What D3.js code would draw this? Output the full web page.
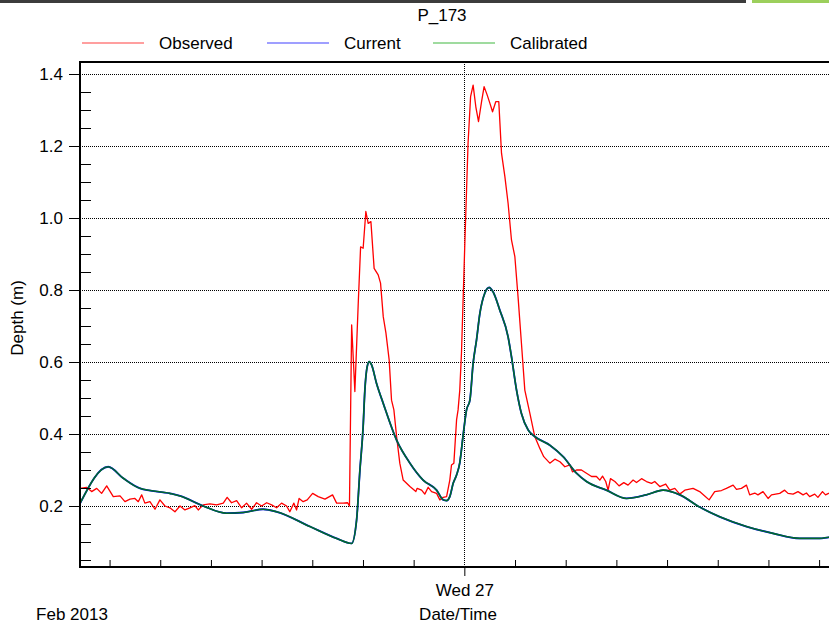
<!DOCTYPE html>
<html>
<head>
<meta charset="utf-8">
<script src="https://cdn.jsdelivr.net/npm/d3@7"></script>
<style>
    body { margin: 0; background: #fff; }
    svg { display: block; font-family: "Liberation Sans", Arial, sans-serif; }
    .axis path, .axis line { stroke: #000; }
</style>
</head>
<body>
<script>
'use strict';

// hours after Tue 26 Feb 2013 00:00
var observedHours = [1.25, 1.64, 1.94, 2.24, 2.53, 2.83, 3.22, 3.62, 3.91, 4.21, 4.50, 4.70, 4.90, 5.09, 5.39, 5.69, 5.98, 6.28, 6.57, 6.87,
    7.17, 7.46, 7.76, 8.05, 8.25, 8.54, 8.94, 9.34, 9.73, 9.96, 10.22, 10.52, 10.82, 11.11, 11.41, 11.70, 12.00, 12.30, 12.59, 12.89,
    13.18, 13.48, 13.67, 13.91, 14.07, 14.22, 14.46, 14.70, 15.02, 15.35, 15.75, 16.20, 16.44, 16.83, 17.09, 17.20, 17.33, 17.52, 17.72, 17.86,
    18.01, 18.17, 18.31, 18.47, 18.66, 18.90, 19.04, 19.20, 19.36, 19.55, 19.69, 19.83, 19.99, 20.18, 20.38, 20.78, 21.13, 21.21, 21.47, 21.66,
    21.86, 22.06, 22.36, 22.55, 22.75, 22.95, 23.14, 23.24, 23.38, 23.54, 23.63, 23.73, 23.83, 24.03, 24.22, 24.37, 24.52, 24.68, 24.84, 25.02,
    25.17, 25.35, 25.51, 25.67, 25.86, 26.04, 26.20, 26.40, 26.59, 26.79, 26.99, 27.18, 27.38, 27.58, 27.88, 28.17, 28.47, 28.70, 29.06, 29.36,
    29.66, 29.95, 30.25, 30.40, 30.64, 30.93, 31.23, 31.53, 31.82, 32.02, 32.18, 32.37, 32.51, 32.65, 32.91, 33.16, 33.44, 33.69, 33.99, 34.19,
    34.49, 34.78, 35.08, 35.27, 35.57, 35.92, 36.16, 36.46, 36.75, 37.05, 37.54, 37.93, 38.23, 38.49, 38.82, 39.22, 39.51, 39.91, 40.11, 40.40,
    40.70, 40.89, 41.19, 41.38, 41.68, 41.98, 42.18, 42.67, 42.96, 43.16, 43.46, 43.75, 44.05, 44.25, 44.44, 44.74, 44.93, 45.20, 45.38, 45.56,
    46.00];
var observedDepth = [0.249, 0.252, 0.240, 0.249, 0.235, 0.256, 0.226, 0.228, 0.212, 0.219, 0.221, 0.212, 0.231, 0.208, 0.212, 0.191, 0.217, 0.200, 0.195, 0.184,
    0.200, 0.189, 0.195, 0.201, 0.189, 0.203, 0.206, 0.203, 0.208, 0.224, 0.209, 0.215, 0.195, 0.208, 0.191, 0.209, 0.200, 0.209, 0.203, 0.195,
    0.208, 0.200, 0.184, 0.208, 0.189, 0.221, 0.212, 0.217, 0.235, 0.226, 0.219, 0.231, 0.208, 0.208, 0.209, 0.200, 0.703, 0.518, 0.763, 0.920,
    0.916, 1.018, 0.985, 0.990, 0.860, 0.842, 0.819, 0.726, 0.680, 0.606, 0.494, 0.467, 0.393, 0.319, 0.272, 0.254, 0.240, 0.249, 0.244, 0.233,
    0.252, 0.240, 0.235, 0.217, 0.224, 0.226, 0.272, 0.314, 0.319, 0.439, 0.467, 0.522, 0.624, 0.930, 1.207, 1.337, 1.369, 1.309, 1.268, 1.323,
    1.365, 1.342, 1.319, 1.295, 1.323, 1.323, 1.180, 1.115, 1.041, 0.939, 0.893, 0.781, 0.652, 0.522, 0.457, 0.393, 0.360, 0.337, 0.319, 0.330,
    0.323, 0.309, 0.314, 0.295, 0.300, 0.300, 0.291, 0.282, 0.282, 0.272, 0.283, 0.268, 0.244, 0.276, 0.268, 0.256, 0.265, 0.258, 0.272, 0.265,
    0.276, 0.268, 0.263, 0.268, 0.254, 0.261, 0.244, 0.249, 0.233, 0.244, 0.249, 0.240, 0.228, 0.217, 0.240, 0.243, 0.249, 0.258, 0.246, 0.249,
    0.258, 0.231, 0.236, 0.231, 0.240, 0.221, 0.231, 0.235, 0.244, 0.235, 0.233, 0.240, 0.231, 0.236, 0.226, 0.233, 0.224, 0.240, 0.231, 0.235,
    0.232];

var modelHours = [1.25, 2.92, 3.81, 4.80, 6.57, 7.17, 8.54, 9.93, 10.91, 12.09, 12.89, 14.86, 16.44, 17.33, 17.62, 17.82, 18.01, 18.11, 18.25, 18.37,
    18.51, 18.80, 19.20, 19.99, 20.78, 21.56, 22.36, 22.75, 22.95, 23.14, 23.34, 23.54, 23.73, 23.93, 24.13, 24.33, 24.52, 24.72, 24.92, 25.21,
    25.47, 25.70, 26.10, 26.59, 26.79, 27.09, 27.38, 27.78, 28.17, 29.06, 29.85, 30.64, 31.23, 32.41, 33.60, 34.78, 35.76, 36.75, 37.93, 39.12,
    40.70, 42.27, 43.85, 45.04, 45.57, 46.00];
var calibratedDepth = [0.207, 0.309, 0.277, 0.249, 0.235, 0.228, 0.200, 0.180, 0.182, 0.191, 0.184, 0.143, 0.110, 0.096, 0.160, 0.300, 0.420, 0.520, 0.587, 0.601,
    0.592, 0.541, 0.485, 0.383, 0.319, 0.272, 0.244, 0.217, 0.215, 0.226, 0.263, 0.286, 0.320, 0.397, 0.467, 0.494, 0.596, 0.661, 0.735, 0.791,
    0.807, 0.795, 0.744, 0.670, 0.615, 0.522, 0.457, 0.411, 0.393, 0.369, 0.337, 0.291, 0.268, 0.244, 0.221, 0.231, 0.244, 0.231, 0.197, 0.170,
    0.143, 0.124, 0.110, 0.110, 0.113, 0.114];
// the Current run sits exactly under the Calibrated one
var currentDepth = calibratedDepth.slice();

var seriesNames = ['Observed', 'Current', 'Calibrated'];
var seriesColors = ['#ff0000', '#0000ff', '#006a2a'];
var majorDepthTicks = [0.2, 0.4, 0.6, 0.8, 1.0, 1.2, 1.4];
var minorDepthTicks = [0.05, 0.1, 0.15, 0.25, 0.3, 0.35, 0.45, 0.5, 0.55, 0.65, 0.7, 0.75, 0.85, 0.9, 0.95, 1.05, 1.1, 1.15, 1.25, 1.3, 1.35];

var width = 829;
var height = 627;
var plot = { left: 80, top: 62, right: 836, bottom: 567 };
var dayStart = Date.UTC(2013, 1, 26);
var hour = 3600 * 1000;

function toDate(h) {
    return new Date(dayStart + h * hour);
}

var svg = d3.select('body').append('svg')
    .attr('width', width)
    .attr('height', height);

// strip along the top edge of the captured window
svg.append('rect').attr('x', 0).attr('y', 0).attr('width', 746).attr('height', 3).attr('fill', '#3c3c3c');
svg.append('rect').attr('x', 752).attr('y', 0).attr('width', 77).attr('height', 3).attr('fill', '#9ccf5c');

var x = d3.scaleUtc()
    .domain([toDate(1.25), toDate(46)])
    .range([plot.left, plot.right]);

var y = d3.scaleLinear()
    .domain([1.4 - (plot.bottom - 74) / 360, 1.4 + (74 - plot.top) / 360])
    .range([plot.bottom, plot.top]);

var dayTicks = x.ticks(d3.utcDay.every(1));
var hourTicks = x.ticks(d3.utcHour.every(3)).filter(function (d) { return d.getUTCHours() !== 0; });

// grid
var grid = svg.append('g')
    .attr('stroke', '#000')
    .attr('stroke-dasharray', '1,1')
    .attr('stroke-width', 1.2)
    .attr('shape-rendering', 'crispEdges');
grid.selectAll('line.h').data(majorDepthTicks).enter().append('line')
    .attr('x1', plot.left).attr('x2', plot.right)
    .attr('y1', function (d) { return Math.round(y(d)) + 0.5; })
    .attr('y2', function (d) { return Math.round(y(d)) + 0.5; });
grid.selectAll('line.v').data(dayTicks).enter().append('line')
    .attr('y1', plot.top).attr('y2', plot.bottom)
    .attr('x1', function (d) { return Math.round(x(d)) + 0.5; })
    .attr('x2', function (d) { return Math.round(x(d)) + 0.5; });

svg.append('clipPath').attr('id', 'plot-clip')
    .append('rect')
    .attr('x', plot.left).attr('y', plot.top)
    .attr('width', plot.right - plot.left).attr('height', plot.bottom - plot.top);

var chart = svg.append('g').attr('clip-path', 'url(#plot-clip)');

function drawLine(hours, values, color, strokeWidth, curve) {
    var line = d3.line()
        .x(function (d, i) { return x(toDate(hours[i])); })
        .y(function (d) { return y(d); })
        .curve(curve);
    chart.append('path')
        .datum(values)
        .attr('fill', 'none')
        .attr('stroke', color)
        .attr('stroke-width', strokeWidth)
        .attr('stroke-linejoin', 'round')
        .attr('d', line);
}

drawLine(observedHours, observedDepth, seriesColors[0], 1.3, d3.curveLinear);
drawLine(modelHours, currentDepth, seriesColors[1], 1.8, d3.curveMonotoneX);
drawLine(modelHours, calibratedDepth, seriesColors[2], 1.6, d3.curveMonotoneX);

// y axis: labelled ticks outside, minor ticks inside
svg.append('g')
    .attr('class', 'axis')
    .attr('transform', 'translate(' + plot.left + ',0)')
    .call(d3.axisLeft(y).tickValues(majorDepthTicks).tickFormat(d3.format('.1f')).tickSize(11).tickPadding(6))
    .call(function (g) {
        g.select('.domain').remove();
        g.selectAll('text').attr('font-size', 17).attr('fill', '#000');
    });

svg.append('g')
    .attr('class', 'axis')
    .attr('transform', 'translate(' + plot.left + ',0)')
    .call(d3.axisRight(y).tickValues(minorDepthTicks).tickSize(11).tickFormat(''))
    .call(function (g) { g.select('.domain').remove(); });

// x axis: hour ticks inside, day ticks outside with labels
svg.append('g')
    .attr('class', 'axis')
    .attr('transform', 'translate(0,' + plot.bottom + ')')
    .call(d3.axisTop(x).tickValues(hourTicks).tickSize(7).tickFormat(''))
    .call(function (g) { g.select('.domain').remove(); });

svg.append('g')
    .attr('class', 'axis')
    .attr('transform', 'translate(0,' + plot.bottom + ')')
    .call(d3.axisBottom(x).tickValues(dayTicks).tickSize(9).tickPadding(8).tickFormat(d3.utcFormat('%a %d')))
    .call(function (g) {
        g.select('.domain').remove();
        g.selectAll('text').attr('font-size', 17).attr('fill', '#000');
    });

// frame
svg.append('path')
    .attr('fill', 'none')
    .attr('stroke', '#000')
    .attr('stroke-width', 2)
    .attr('d', 'M' + plot.right + ',' + plot.top + 'H' + plot.left + 'V' + plot.bottom + 'H' + plot.right);

// titles
svg.append('text')
    .attr('x', 442).attr('y', 21)
    .attr('text-anchor', 'middle').attr('font-size', 17)
    .text('P_173');

svg.append('text')
    .attr('transform', 'translate(23,318) rotate(-90)')
    .attr('text-anchor', 'middle').attr('font-size', 17)
    .text('Depth (m)');

svg.append('text')
    .attr('x', 458).attr('y', 620)
    .attr('text-anchor', 'middle').attr('font-size', 17)
    .text('Date/Time');

svg.append('text')
    .attr('x', 72).attr('y', 620)
    .attr('text-anchor', 'middle').attr('font-size', 17)
    .text('Feb 2013');

// legend
var legendX = [82, 267, 433];
var legend = svg.append('g').selectAll('g')
    .data(seriesNames)
    .enter().append('g')
    .attr('transform', function (d, i) { return 'translate(' + legendX[i] + ',43)'; });

legend.append('line')
    .attr('x1', 0).attr('x2', 62)
    .attr('stroke', function (d, i) { return i === 2 ? '#00a000' : seriesColors[i]; })
    .attr('stroke-opacity', 0.75)
    .attr('stroke-width', 1.2);

legend.append('text')
    .attr('x', 77).attr('y', 6)
    .attr('font-size', 17)
    .text(function (d) { return d; });
</script>
</body>
</html>
